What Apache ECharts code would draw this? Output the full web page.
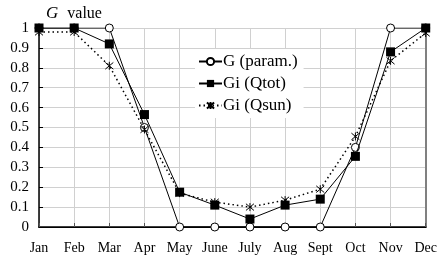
<!DOCTYPE html>
<html>
<head>
<meta charset="utf-8">
<script src="https://cdn.jsdelivr.net/npm/echarts@6/dist/echarts.min.js"></script>
<style>
  html, body { margin: 0; padding: 0; background: #fff; }
  #chart { width: 440px; height: 257px; }
</style>
</head>
<body>
<div id="chart"></div>
<script>
const months = ['Jan', 'Feb', 'Mar', 'Apr', 'May', 'June', 'July', 'Aug', 'Sept', 'Oct', 'Nov', 'Dec']
const gParam = [1, 1, 1, 0.5, 0, 0, 0, 0, 0, 0.4, 1, 1]
const giQtot = [1, 1, 0.92, 0.565, 0.175, 0.11, 0.04, 0.11, 0.14, 0.355, 0.88, 1]
const giQsun = [0.98, 0.98, 0.81, 0.49, 0.17, 0.125, 0.1, 0.135, 0.19, 0.455, 0.835, 0.975]

const serif = 'Liberation Serif'
const starPath = 'path://M0,0L10,10M10,0L0,10M5,-1L5,11'

const chart = echarts.init(document.getElementById('chart'))
chart.setOption({
  animation: false,
  textStyle: { fontFamily: serif },
  title: {
    text: '{g|G}  {v|value}',
    left: 41,
    top: 0,
    textStyle: {
      fontFamily: serif,
      fontWeight: 'normal',
      rich: {
        g: { fontFamily: serif, fontStyle: 'italic', fontWeight: 'normal', fontSize: 17, color: '#000' },
        v: { fontFamily: serif, fontWeight: 'normal', fontSize: 16, color: '#000' }
      }
    }
  },
  legend: {
    orient: 'vertical',
    left: 195,
    top: 49,
    width: 117,
    padding: [4, 6, 4, 3],
    itemGap: 5,
    itemWidth: 23,
    itemHeight: 9,
    backgroundColor: '#fff',
    textStyle: { fontFamily: serif, fontSize: 17, color: '#000', padding: [0, 0, 0, -4] },
    data: ['G (param.)', 'Gi (Qtot)', 'Gi (Qsun)']
  },
  grid: {
    left: 39,
    right: 10,
    top: 28,
    bottom: 30
  },
  xAxis: [
    {
      type: 'category',
      data: months,
      boundaryGap: false,
      axisLine: { lineStyle: { color: '#000', width: 1.5 } },
      axisTick: { inside: true, length: 4, lineStyle: { color: '#555' } },
      axisLabel: { fontFamily: serif, fontSize: 14, color: '#000', margin: 14 },
      splitLine: { show: true, lineStyle: { color: '#d0d0d0', width: 1 } }
    },
    {
      type: 'category',
      data: months,
      boundaryGap: false,
      position: 'top',
      axisLine: { lineStyle: { color: '#000', width: 1.2 } },
      axisTick: { show: false },
      axisLabel: { show: false }
    }
  ],
  yAxis: [
    {
      type: 'value',
      min: 0,
      max: 1,
      interval: 0.1,
      axisLine: { show: true, lineStyle: { color: '#000', width: 1.5 } },
      axisTick: { show: true, inside: true, length: 4, lineStyle: { color: '#000' } },
      axisLabel: { fontFamily: serif, fontSize: 15, color: '#000', margin: 10 },
      splitLine: { lineStyle: { color: '#d0d0d0', width: 1 } }
    },
    {
      type: 'value',
      min: 0,
      max: 1,
      interval: 0.1,
      position: 'right',
      axisLine: { show: true, lineStyle: { color: '#808080', width: 2 } },
      axisTick: { show: false },
      axisLabel: { show: false },
      splitLine: { show: false }
    }
  ],
  series: [
    {
      name: 'G (param.)',
      type: 'line',
      data: gParam,
      symbol: 'circle',
      symbolSize: 8,
      lineStyle: { color: '#000', width: 1 },
      itemStyle: { color: '#fff', borderColor: '#000', borderWidth: 1 },
      z: 3
    },
    {
      name: 'Gi (Qtot)',
      type: 'line',
      data: giQtot,
      symbol: 'rect',
      symbolSize: 9,
      lineStyle: { color: '#000', width: 1 },
      itemStyle: { color: '#000', borderColor: '#000', borderWidth: 0 },
      z: 4
    },
    {
      name: 'Gi (Qsun)',
      type: 'line',
      data: giQsun,
      symbol: starPath,
      symbolSize: 8,
      lineStyle: { color: '#000', width: 1.5, type: [1.5, 3] },
      itemStyle: { color: 'rgba(0,0,0,0)', borderColor: '#000', borderWidth: 1 },
      z: 5
    }
  ]
})
</script>
</body>
</html>
